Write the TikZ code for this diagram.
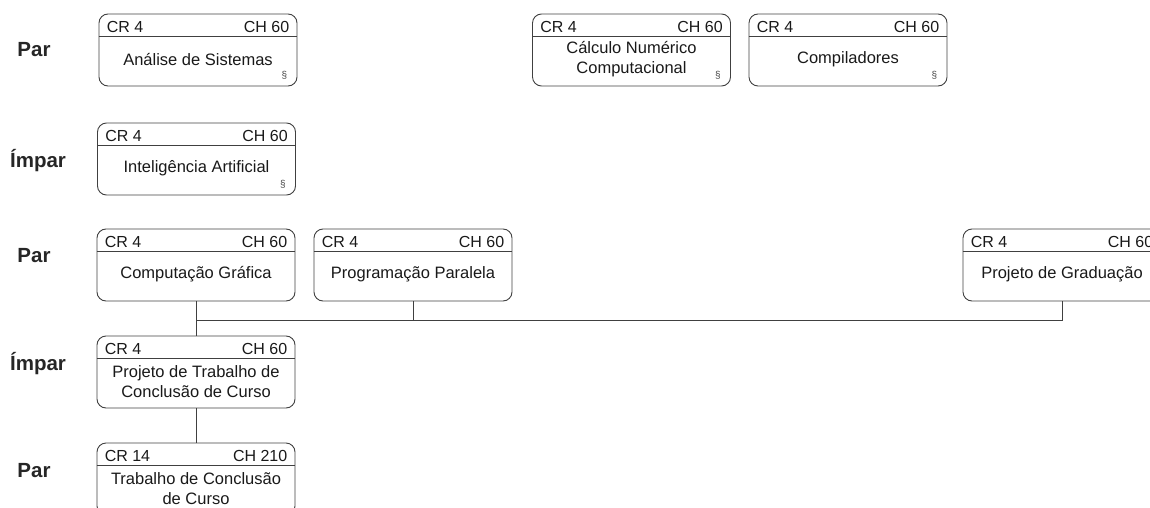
\documentclass[tikz,border=0pt]{standalone}
\usepackage{fontspec}
\setmainfont{Liberation Sans}
\newcommand\coursebox[7]{%
  \node[course] (#1) at (#2,#3) {};
  \draw[link] ([yshift=-23pt]#1.north west) -- ([yshift=-23pt]#1.north east);
  \node[hdr, anchor=base west] (#1-cr) at ([xshift=8pt,yshift=-19pt]#1.north west) {CR #4};
  \node[hdr, anchor=base east] (#1-ch) at ([xshift=-8pt,yshift=-19pt]#1.north east) {CH #5};
  \node[ttl] (#1-t) at ([yshift=-46pt]#1.north) {#6};
  \ifnum#7=1
  \node[sec, anchor=base east] (#1-s) at ([xshift=-10pt,yshift=8pt]#1.south east) {§};
  \fi
}
\begin{document}
\begin{tikzpicture}[x=1pt,y=-1pt,
  course/.style={draw=black!75, line width=0.9pt, rounded corners=9pt, minimum width=198pt, minimum height=72pt, inner sep=0pt},
  hdr/.style={font=\fontsize{16}{19}\selectfont, text=black!90, inner sep=0pt},
  ttl/.style={font=\fontsize{16.5}{20}\selectfont, text=black!90, align=center, inner sep=0pt},
  sec/.style={font=\fontsize{10}{11}\selectfont, text=black!70, inner sep=0pt},
  sem/.style={font=\fontsize{20.5}{24}\selectfont\bfseries, text=black!85, inner sep=0pt},
  link/.style={draw=black!75, line width=0.9pt}]
\useasboundingbox (0,0) rectangle (1150,508);
\clip (0,0) rectangle (1150,508);

\node[sem, anchor=base] (s1) at (34,57) {Par};
\node[sem, anchor=base] (s2) at (38,167) {Ímpar};
\node[sem, anchor=base] (s3) at (34,262) {Par};
\node[sem, anchor=base] (s4) at (38,370) {Ímpar};
\node[sem, anchor=base] (s5) at (34,477) {Par};

\coursebox{AS}{198}{50}{4}{60}{Análise de Sistemas}{1}
\coursebox{CNC}{631.5}{50}{4}{60}{Cálculo Numérico\\Computacional}{1}
\coursebox{COMP}{848}{50}{4}{60}{Compiladores}{1}
\coursebox{IA}{196.5}{159}{4}{60}{Inteligência Artificial}{1}
\coursebox{CG}{196}{265}{4}{60}{Computação Gráfica}{0}
\coursebox{PP}{413}{265}{4}{60}{Programação Paralela}{0}
\coursebox{PG}{1062}{265}{4}{60}{Projeto de Graduação}{0}
\coursebox{PTCC}{196}{372}{4}{60}{Projeto de Trabalho de\\Conclusão de Curso}{0}
\coursebox{TCC}{196}{479}{14}{210}{Trabalho de Conclusão\\de Curso}{0}

\coordinate (bus) at (0,320);
\draw[link] (CG.south) -- (CG.south |- bus) -- (PG.south |- bus) -- (PG.south);
\draw[link] (PP.south) -- (PP.south |- bus);
\draw[link] (CG.south |- bus) -- (PTCC.north);
\draw[link] (PTCC.south) -- (TCC.north);
\end{tikzpicture}
\end{document}
